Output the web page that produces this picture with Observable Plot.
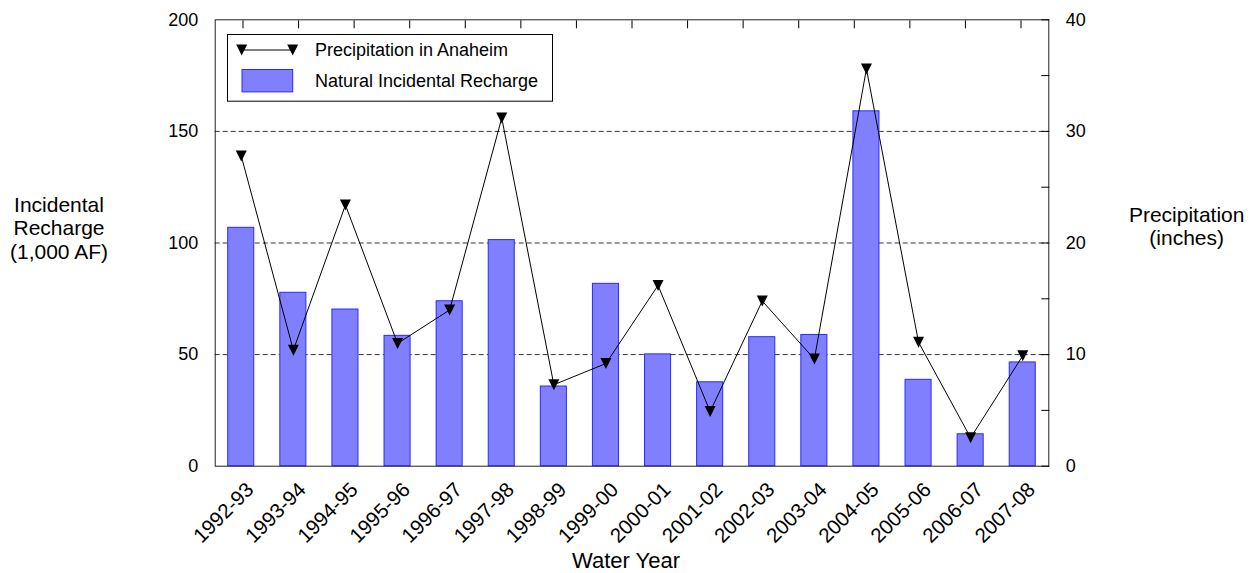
<!DOCTYPE html>
<html><head><meta charset="utf-8">
<script src="https://cdn.jsdelivr.net/npm/d3@7"></script>
<script src="https://cdn.jsdelivr.net/npm/@observablehq/plot@0.6"></script>
<style>
body{margin:0;background:#fff;font-family:Arial,"Liberation Sans",sans-serif;}
#wrap{position:relative;width:1255px;height:573px;}
.lbl{position:absolute;text-align:center;color:#000;font-family:Arial,"Liberation Sans",sans-serif;white-space:nowrap;}
</style></head><body><div id="wrap"></div>
<script>
// ---- data ----
const years = ["1992-93","1993-94","1994-95","1995-96","1996-97","1997-98","1998-99","1999-00",
               "2000-01","2001-02","2002-03","2003-04","2004-05","2005-06","2006-07","2007-08"];
const recharge = [106.8, 77.7, 70.2, 58.4, 73.9, 101.3, 35.7, 81.7, 50.1, 37.6, 57.8, 58.8, 159.0, 38.7, 14.3, 46.5]; // 1,000 AF
const precip = [27.8, 10.4, 23.4, 11.0, 14.0, 31.2, 7.3, 9.2, 16.2, 4.9, 14.8, 9.6, 35.6, 11.1, 2.55, 9.9];      // inches
const leftTicks = [0, 50, 100, 150, 200];
const gridTicks = [50, 100, 150];
const rightTicks = [0, 10, 20, 30, 40];
const rightMinorTicks = [0, 5, 10, 15, 20, 25, 30, 35, 40];
const topTickCount = 15;
const precipToLeft = 200 / 40;   // right axis 0–40 in. shares the 0–200 left axis

const data = years.map((y, i) => ({year: y, i, recharge: recharge[i], precip: precip[i]}));
const n = years.length;
const topTicks = Array.from({length: topTickCount}, (_, k) => (k + 0.5) * n / topTickCount);

// downward triangle centred on its bounding box
const downTriangle = {
  draw(ctx, size) {
    const r = Math.sqrt(size / Math.PI);
    ctx.moveTo(-r, -r); ctx.lineTo(r, -r); ctx.lineTo(0, r); ctx.closePath();
  }
};

const font = "Arial, 'Liberation Sans', sans-serif";
const chart = Plot.plot({
  width: 1255, height: 573,
  marginLeft: 214.7, marginRight: 206.7, marginTop: 19.3, marginBottom: 107.3,
  style: {fontFamily: font, fontSize: "18px", color: "#000", background: "#fff"},
  x: {type: "linear", domain: [0, n], axis: null},
  y: {domain: [0, 200], axis: null},
  marks: [
    Plot.ruleY(gridTicks, {stroke: "#333", strokeDasharray: "5,3"}),
    Plot.rectY(data, {x1: d => d.i + 0.25, x2: d => d.i + 0.75, y: "recharge",
                      fill: "#8080ff", stroke: "#2a2aff", strokeWidth: 1}),
    Plot.line(data, {x: d => d.i + 0.5, y: d => d.precip * precipToLeft, stroke: "#000", strokeWidth: 1}),
    Plot.dot(data, {x: d => d.i + 0.5, y: d => d.precip * precipToLeft, symbol: downTriangle, r: 5.5, fill: "#000", stroke: "none"}),
    Plot.frame({stroke: "#222", strokeWidth: 1}),
    Plot.axisY({anchor: "left", ticks: leftTicks, tickSize: 0, tickPadding: 17, fontSize: 18, label: null}),
    Plot.axisY({anchor: "right", ticks: rightTicks.map(v => v * precipToLeft), tickFormat: v => v / precipToLeft,
                tickSize: 0, tickPadding: 17, fontSize: 18, label: null}),
    Plot.axisY({anchor: "right", ticks: rightMinorTicks.map(v => v * precipToLeft), tickSize: -8, tickFormat: () => "", label: null}),
    Plot.axisX({anchor: "top", ticks: topTicks, tickSize: -8, tickFormat: () => "", label: null}),
    Plot.axisX({anchor: "bottom", ticks: data.map(d => d.i + 0.5), tickFormat: v => years[Math.floor(v)],
                tickRotate: -45, tickSize: 0, tickPadding: 20, dx: 9, fontSize: 20.5, label: null})
  ]
});
const wrap = document.getElementById("wrap");
wrap.appendChild(chart);

function addLabel(html, left, top, width, size, lh) {
  const d = document.createElement("div");
  d.className = "lbl";
  d.style.left = left + "px"; d.style.top = top + "px"; d.style.width = width + "px";
  d.style.fontSize = size + "px"; d.style.lineHeight = lh + "px";
  d.innerHTML = html;
  wrap.appendChild(d);
}
addLabel("Incidental<br>Recharge<br>(1,000 AF)", 0, 192.5, 118, 21, 23.5);
addLabel("Precipitation<br>(inches)", 1116.7, 202.5, 140, 21, 23.5);
addLabel("Water Year", 526, 548.2, 200, 22, 25);

// legend
const lg = d3.select(wrap).append("svg")
  .attr("width", 327).attr("height", 69)
  .style("position", "absolute").style("left", "227px").style("top", "33.8px")
  .style("font-family", font).style("font-size", "18px");
lg.append("rect").attr("x", 0.5).attr("y", 0.5).attr("width", 325).attr("height", 66.7)
  .attr("fill", "#fff").attr("stroke", "#000");
lg.append("line").attr("x1", 14.7).attr("x2", 65.7).attr("y1", 16).attr("y2", 16).attr("stroke", "#000");
[14.7, 65.7].forEach(cx => lg.append("path")
  .attr("d", `M${cx - 5.5},${16 - 5.5}L${cx + 5.5},${16 - 5.5}L${cx},${16 + 5.5}Z`).attr("fill", "#000"));
lg.append("text").attr("x", 88).attr("y", 16).attr("dy", "0.35em").text("Precipitation in Anaheim");
lg.append("rect").attr("x", 15).attr("y", 35.5).attr("width", 50.7).attr("height", 22.4)
  .attr("fill", "#8080ff").attr("stroke", "#2a2aff");
lg.append("text").attr("x", 88).attr("y", 47).attr("dy", "0.35em").text("Natural Incidental Recharge");
</script></body></html>
